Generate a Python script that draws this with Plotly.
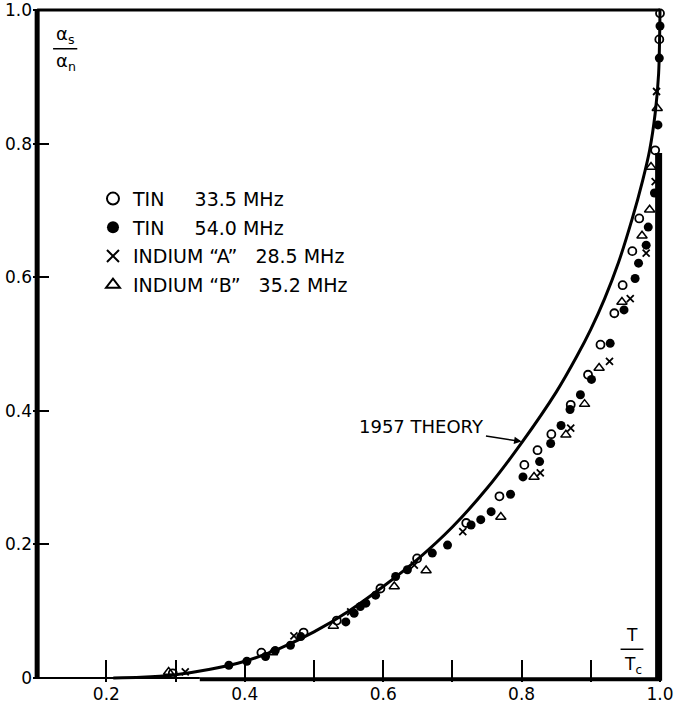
import plotly.graph_objects as go

# ---- data ----
theory_t = [0.21, 0.25, 0.30, 0.35, 0.40, 0.45, 0.50, 0.55, 0.60, 0.65, 0.70, 0.75, 0.80,
            0.85, 0.88, 0.90, 0.92, 0.94, 0.96, 0.975, 0.985, 0.993, 0.998, 1.0]
theory_a = [0.0, 0.001, 0.005, 0.013, 0.025, 0.044, 0.069, 0.100, 0.137, 0.178, 0.226, 0.284, 0.352,
            0.428, 0.482, 0.522, 0.568, 0.622, 0.688, 0.745, 0.790, 0.845, 0.905, 1.0]

tin335_t = [0.296, 0.424, 0.485, 0.533, 0.596, 0.649, 0.720, 0.768, 0.804, 0.823, 0.843, 0.871,
            0.896, 0.914, 0.934, 0.946, 0.960, 0.970, 0.993, 0.999, 1.0]
tin335_a = [0.007, 0.038, 0.068, 0.086, 0.134, 0.179, 0.232, 0.272, 0.319, 0.341, 0.365, 0.409,
            0.454, 0.499, 0.546, 0.588, 0.639, 0.688, 0.790, 0.956, 0.995]

tin540_t = [0.377, 0.403, 0.430, 0.444, 0.466, 0.481, 0.546, 0.558, 0.567, 0.575, 0.589, 0.618,
            0.635, 0.671, 0.693, 0.727, 0.741, 0.756, 0.784, 0.802, 0.826, 0.842, 0.857, 0.870,
            0.885, 0.901, 0.928, 0.948, 0.964, 0.969, 0.980, 0.983, 0.992, 0.997, 0.999, 1.0]
tin540_a = [0.019, 0.025, 0.032, 0.041, 0.049, 0.062, 0.084, 0.097, 0.107, 0.112, 0.124, 0.152,
            0.162, 0.187, 0.199, 0.229, 0.237, 0.249, 0.275, 0.301, 0.324, 0.351, 0.378, 0.402,
            0.424, 0.447, 0.501, 0.551, 0.598, 0.621, 0.648, 0.675, 0.726, 0.828, 0.928, 0.976]

indA_t = [0.314, 0.471, 0.553, 0.645, 0.715, 0.827, 0.871, 0.927, 0.957, 0.980, 0.993, 0.995]
indA_a = [0.009, 0.063, 0.099, 0.169, 0.219, 0.307, 0.374, 0.474, 0.568, 0.636, 0.743, 0.878]

indB_t = [0.290, 0.440, 0.528, 0.616, 0.662, 0.770, 0.818, 0.864, 0.891, 0.912, 0.945, 0.974,
          0.985, 0.987, 0.996]
indB_a = [0.009, 0.038, 0.078, 0.137, 0.161, 0.241, 0.301, 0.364, 0.410, 0.464, 0.563, 0.662,
          0.701, 0.765, 0.853]

x_ticks = [0.2, 0.4, 0.6, 0.8, 1.0]
x_ticklabels = ["0.2", "0.4", "0.6", "0.8", "1.0"]
x_minor_ticks = [0.3, 0.5, 0.7, 0.9]
y_ticks = [0, 0.2, 0.4, 0.6, 0.8, 1.0]
y_ticklabels = ["0", "0.2", "0.4", "0.6", "0.8", "1.0"]

names = ["TIN     33.5 MHz", "TIN     54.0 MHz", "INDIUM \u201cA\u201d   28.5 MHz", "INDIUM \u201cB\u201d   35.2 MHz"]

FONT = "DejaVu Sans"
fig = go.Figure()

fig.add_trace(go.Scatter(x=theory_t, y=theory_a, mode="lines",
                         line=dict(color="black", width=3, shape="spline", smoothing=0.8),
                         showlegend=False, hoverinfo="skip"))

fig.add_trace(go.Scatter(x=tin335_t, y=tin335_a, mode="markers", name=names[0], legendgroup="a",
                         marker=dict(symbol="circle-open", size=8, color="black", line=dict(width=1.8, color="black"))))
fig.add_trace(go.Scatter(x=tin540_t, y=tin540_a, mode="markers", name=names[1], legendgroup="b",
                         marker=dict(symbol="circle", size=9, color="black")))
fig.add_trace(go.Scatter(x=indA_t, y=indA_a, mode="markers", name=names[2], legendgroup="c",
                         marker=dict(symbol="x-thin-open", size=7, color="black", line=dict(width=1.8, color="black"))))
fig.add_trace(go.Scatter(x=indB_t, y=indB_a, mode="markers", name=names[3], legendgroup="d",
                         marker=dict(symbol="triangle-up-open", size=9, color="black", line=dict(width=1.5, color="black"))))

shapes = [
    dict(type="line", xref="x", yref="y", x0=0.1, x1=0.1, y0=0, y1=1.0, line=dict(color="black", width=5)),
    dict(type="line", xref="x", yref="y", x0=0.1, x1=1.0, y0=1.0, y1=1.0, line=dict(color="black", width=3)),
    dict(type="line", xref="x", yref="y", x0=0.1, x1=0.335, y0=0, y1=0, line=dict(color="black", width=2)),
    dict(type="line", xref="x", yref="y", x0=0.335, x1=1.0, y0=-0.002, y1=-0.002, line=dict(color="black", width=4)),
    dict(type="line", xref="x", yref="y", x0=0.998, x1=0.998, y0=-0.004, y1=0.786, line=dict(color="black", width=7)),
    dict(type="line", xref="x", yref="y", x0=0.123, x1=0.158, y0=0.942, y1=0.942, line=dict(color="black", width=1.5)),
    dict(type="line", xref="x", yref="y", x0=0.943, x1=0.976, y0=0.043, y1=0.043, line=dict(color="black", width=1.5)),
]

annotations = [
    dict(x=0.140, y=0.962, xref="x", yref="y", text="α<sub>s</sub>", showarrow=False,
         font=dict(family=FONT, size=18, color="black")),
    dict(x=0.142, y=0.922, xref="x", yref="y", text="α<sub>n</sub>", showarrow=False,
         font=dict(family=FONT, size=18, color="black")),
    dict(x=0.959, y=0.064, xref="x", yref="y", text="T", showarrow=False,
         font=dict(family=FONT, size=17, color="black")),
    dict(x=0.961, y=0.019, xref="x", yref="y", text="T<sub>c</sub>", showarrow=False,
         font=dict(family=FONT, size=17, color="black")),
    dict(x=0.800, y=0.354, xref="x", yref="y", ax=0.656, ay=0.377, axref="x", ayref="y",
         text="1957 THEORY", showarrow=True, arrowhead=2, arrowsize=1, arrowwidth=1.5,
         arrowcolor="black", standoff=0, startstandoff=0,
         font=dict(family=FONT, size=18, color="black")),
]

fig.update_layout(
    width=678, height=714,
    margin=dict(l=33, r=0, t=6, b=32, autoexpand=False),
    paper_bgcolor="white", plot_bgcolor="white",
    font=dict(family=FONT, size=17, color="black"),
    shapes=shapes, annotations=annotations,
    showlegend=True,
    legend=dict(x=0.093, y=0.743, xanchor="left", yanchor="top", bgcolor="rgba(0,0,0,0)",
                font=dict(family=FONT, size=19, color="black"), tracegroupgap=1,
                traceorder="grouped", itemsizing="constant"),
    xaxis=dict(range=[0.094, 1.026], showgrid=False, zeroline=False, showline=False, automargin=False,
               tickmode="array", tickvals=x_ticks, ticktext=x_ticklabels, ticklabeloverflow="allow",
               ticks="inside", ticklen=22, tickwidth=2, tickcolor="black",
               minor=dict(tickvals=x_minor_ticks, ticks="inside", ticklen=22, tickwidth=2, tickcolor="black",
                          showgrid=False),
               tickfont=dict(family=FONT, size=17, color="black")),
    yaxis=dict(range=[-0.006, 1.006], showgrid=False, zeroline=False, showline=False, automargin=False,
               tickmode="array", tickvals=y_ticks, ticktext=y_ticklabels, ticklabeloverflow="allow",
               ticks="inside", ticklen=16, tickwidth=2, tickcolor="black",
               tickfont=dict(family=FONT, size=17, color="black")),
)

fig.write_html("out.html", config={"displayModeBar": False},
               post_script="document.body.style.margin='0';document.body.style.overflow='hidden';")
